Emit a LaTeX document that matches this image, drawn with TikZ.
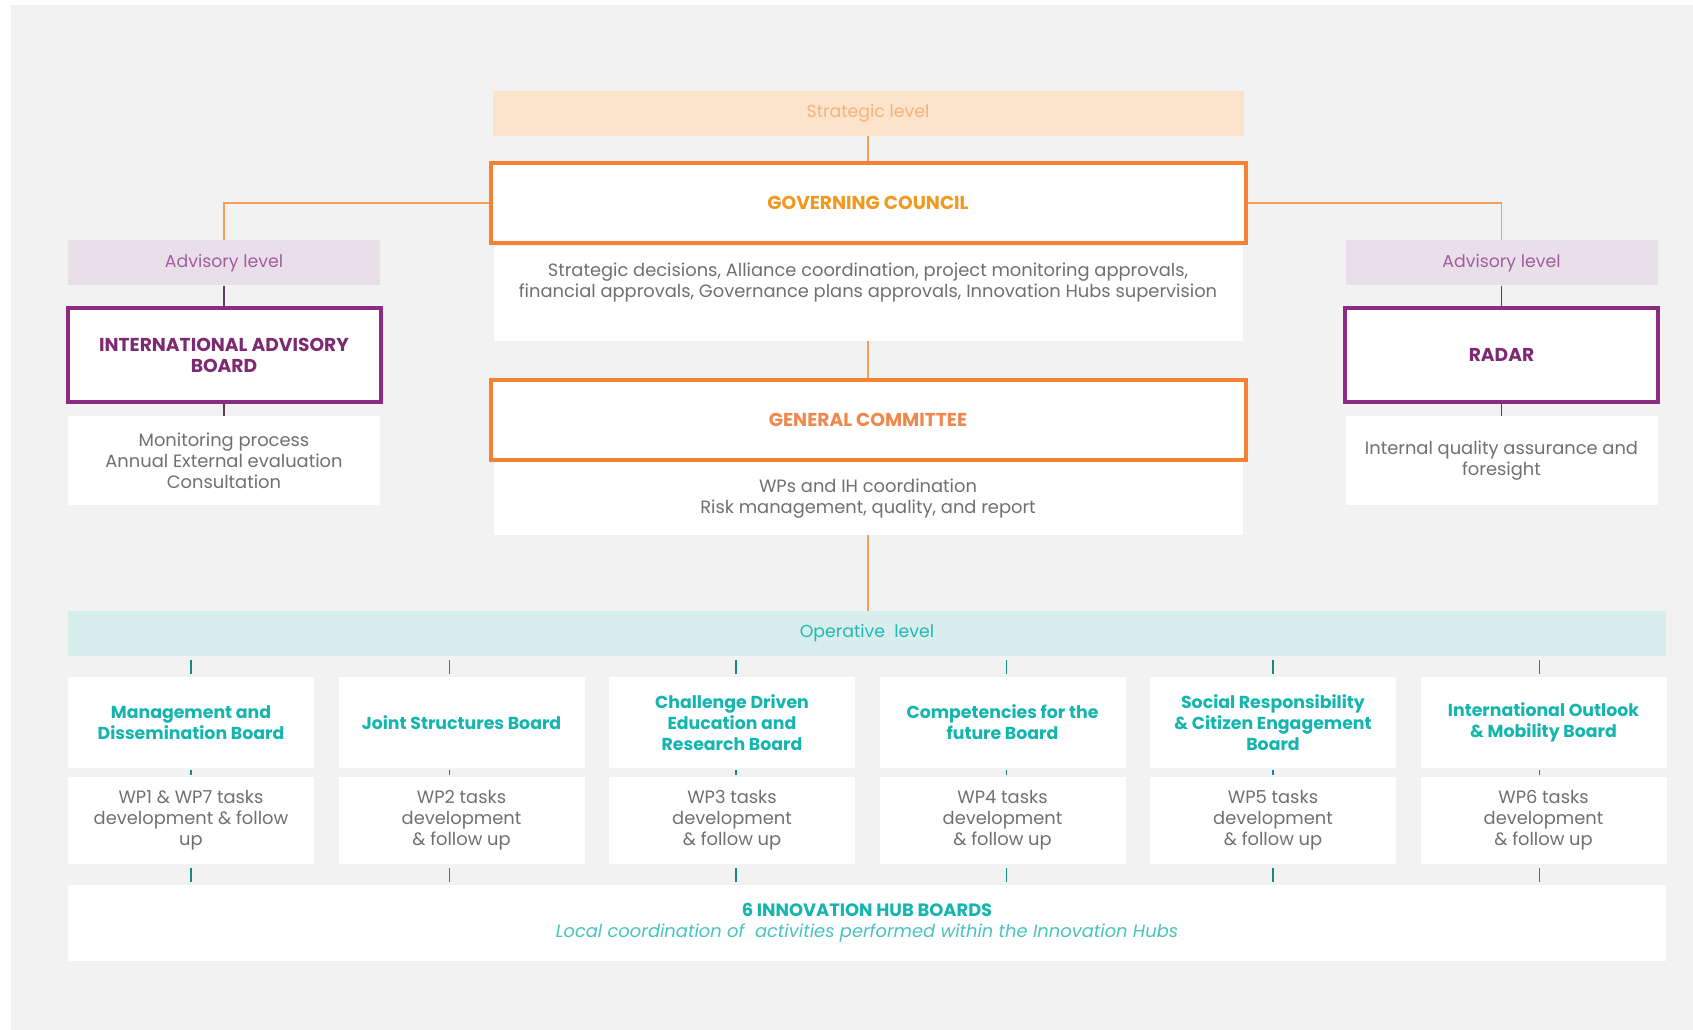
\documentclass[tikz,border=0pt]{standalone}
\usepackage{fontspec}
\setmainfont{Poppins}
\definecolor{bggray}{RGB}{242,242,242}
\definecolor{stratfill}{RGB}{252,227,204}
\definecolor{strattext}{RGB}{246,178,120}
\definecolor{boxorange}{RGB}{245,130,50}
\definecolor{gctext}{RGB}{243,152,30}
\definecolor{gcomtext}{RGB}{240,135,75}
\definecolor{lineorange}{RGB}{245,160,90}
\definecolor{advfill}{RGB}{233,223,233}
\definecolor{advtext}{RGB}{163,92,160}
\definecolor{boxpurple}{RGB}{139,43,130}
\definecolor{purpletext}{RGB}{126,42,114}
\definecolor{linepurple}{RGB}{95,60,92}
\definecolor{opfill}{RGB}{215,238,236}
\definecolor{optext}{RGB}{34,184,179}
\definecolor{boardtext}{RGB}{19,181,174}
\definecolor{lineteal}{RGB}{19,138,138}
\definecolor{desctxt}{RGB}{112,112,112}
\definecolor{hubitalic}{RGB}{70,196,190}
\begin{document}
\begin{tikzpicture}[x=0.75pt,y=0.75pt,yscale=-1,xscale=1,
	band/.style={inner sep=0pt, minimum height=33.75pt, font=\fontsize{13}{15}\selectfont},
	govbox/.style={draw=boxorange, line width=3pt, fill=white, inner sep=0pt, minimum width=566.25pt, minimum height=60pt, font=\fontsize{14}{16}\selectfont\bfseries},
	advbox/.style={draw=boxpurple, line width=3pt, fill=white, inner sep=0pt, minimum width=234.75pt, minimum height=70.5pt, align=center, text=purpletext, font=\fontsize{14}{15.75}\selectfont\bfseries},
	descbox/.style={fill=white, inner sep=0pt, align=center, text=desctxt, font=\fontsize{13.4}{15.75}\selectfont},
	boardbox/.style={fill=white, inner sep=0pt, minimum width=184.5pt, minimum height=68.25pt, align=center, text=boardtext, font=\fontsize{13}{15.75}\selectfont\bfseries},
	taskbox/.style={descbox, minimum width=184.5pt, minimum height=65.25pt},
	orangeline/.style={draw=lineorange, line width=1.2pt},
	purpleline/.style={draw=linepurple, line width=1pt},
	tealline/.style={draw=lineteal, line width=1pt, shorten >=2pt, shorten <=3pt}]
	%uncomment if require: \path (0,1030); %set diagram left start at 0, and has height of 1030
	\useasboundingbox (0,0) rectangle (1693,1030);
	\fill[bggray] (11,5) rectangle (1693,1030);
	
	%Shape: Rectangle [strategic level]
	\node[band, fill=stratfill, text=strattext, minimum width=563.25pt] (strat) at (868,113.5) {Strategic level};
	%Shape: Rectangle [governing council]
	\node[govbox, text=gctext] (gc) at (868,203) {GOVERNING COUNCIL};
	%Shape: Rectangle
	\node[descbox, minimum width=561.75pt, minimum height=71.25pt] (gcdesc) at (868,293.5) {};
	% Text Node
	\node[descbox, fill=none] (gcdesctxt) at (868,283) {Strategic decisions, Alliance coordination, project monitoring approvals,\\financial approvals, Governance plans approvals, Innovation Hubs supervision};
	%Shape: Rectangle [general committee]
	\node[govbox, text=gcomtext] (gcom) at (868,420) {GENERAL COMMITTEE};
	%Shape: Rectangle
	\node[descbox, minimum width=561.75pt, minimum height=54.75pt] (gcomdesc) at (868,498.5) {WPs and IH coordination\\Risk management, quality, and report};
	
	%Shape: Rectangle [advisory level, left]
	\node[band, fill=advfill, text=advtext, minimum width=234pt] (advl) at (224,263) {Advisory level};
	\node[advbox] (iab) at (224,355) {INTERNATIONAL ADVISORY\\BOARD};
	\node[descbox, minimum width=234pt, minimum height=66.75pt] (iabdesc) at (224,460.5) {Monitoring process\\Annual External evaluation\\Consultation};
	%Shape: Rectangle [advisory level, right]
	\node[band, fill=advfill, text=advtext, minimum width=234pt] (advr) at (1501.5,263) {Advisory level};
	\node[advbox] (radar) at (1501.5,355) {RADAR};
	\node[descbox, minimum width=234pt, minimum height=66.75pt] (radardesc) at (1501.5,460.5) {Internal quality assurance and\\foresight};
	
	%Shape: Rectangle [operative level]
	\node[band, fill=opfill, text=optext, minimum width=1198.5pt] (op) at (867,633.5) {Operative~ level};
	
	%Shape: Rectangle [boards]
	\node[boardbox] (b1) at (191,722.5) {Management and\\Dissemination Board};
	\node[boardbox] (b2) at (461.5,722.5) {Joint Structures Board};
	\node[boardbox] (b3) at (732,722.5) {Challenge Driven\\Education and\\Research Board};
	\node[boardbox] (b4) at (1002.5,722.5) {Competencies for the\\future Board};
	\node[boardbox] (b5) at (1273,722.5) {Social Responsibility\\\& Citizen Engagement\\Board};
	\node[boardbox] (b6) at (1543.5,722.5) {International Outlook\\\& Mobility Board};
	%Shape: Rectangle [tasks]
	\node[taskbox] (t1) at (191,820.5) {WP1 \& WP7 tasks\\development \& follow\\up};
	\node[taskbox] (t2) at (461.5,820.5) {WP2 tasks\\development\\\& follow up};
	\node[taskbox] (t3) at (732,820.5) {WP3 tasks\\development\\\& follow up};
	\node[taskbox] (t4) at (1002.5,820.5) {WP4 tasks\\development\\\& follow up};
	\node[taskbox] (t5) at (1273,820.5) {WP5 tasks\\development\\\& follow up};
	\node[taskbox] (t6) at (1543.5,820.5) {WP6 tasks\\development\\\& follow up};
	
	%Shape: Rectangle [innovation hubs]
	\node[descbox, minimum width=1198.5pt, minimum height=57pt, text=boardtext] (hub) at (867,923) {{\bfseries 6 INNOVATION HUB BOARDS}\\{\color{hubitalic}\itshape Local coordination of~ activities performed within the Innovation Hubs}};
	
	%Straight Lines
	\draw[orangeline] (strat) -- (gc);
	\draw[orangeline] (gc.west) -| (advl.north);
	\draw[orangeline] (gc.east) -| (advr.north);
	\draw[orangeline] (gcdesc) -- (gcom);
	\draw[orangeline] (gcomdesc.south) -- (gcomdesc.south |- op.north);
	\draw[purpleline] (advl) -- (iab);
	\draw[purpleline] (iab) -- (iabdesc);
	\draw[purpleline] (advr) -- (radar);
	\draw[purpleline] (radar) -- (radardesc);
	\draw[tealline] (op.south -| b1.north) -- (b1);
	\draw[tealline] ([xshift=-9pt]op.south -| b2.north) -- ([xshift=-9pt]b2.north);
	\draw[tealline] ([xshift=3pt]op.south -| b3.north) -- ([xshift=3pt]b3.north);
	\draw[tealline] ([xshift=3pt]op.south -| b4.north) -- ([xshift=3pt]b4.north);
	\draw[tealline] (op.south -| b5.north) -- (b5);
	\draw[tealline] ([xshift=-3pt]op.south -| b6.north) -- ([xshift=-3pt]b6.north);
	\draw[tealline, shorten <=1pt, shorten >=1pt] (b1) -- (t1);
	\draw[tealline, shorten <=1pt, shorten >=1pt] ([xshift=-9pt]b2.south) -- ([xshift=-9pt]t2.north);
	\draw[tealline, shorten <=1pt, shorten >=1pt] ([xshift=3pt]b3.south) -- ([xshift=3pt]t3.north);
	\draw[tealline, shorten <=1pt, shorten >=1pt] ([xshift=3pt]b4.south) -- ([xshift=3pt]t4.north);
	\draw[tealline, shorten <=1pt, shorten >=1pt] (b5) -- (t5);
	\draw[tealline, shorten <=1pt, shorten >=1pt] ([xshift=-3pt]b6.south) -- ([xshift=-3pt]t6.north);
	\draw[tealline] (t1) -- (t1.south |- hub.north);
	\draw[tealline] ([xshift=-9pt]t2.south) -- ([xshift=-9pt]t2.south |- hub.north);
	\draw[tealline] ([xshift=3pt]t3.south) -- ([xshift=3pt]t3.south |- hub.north);
	\draw[tealline] ([xshift=3pt]t4.south) -- ([xshift=3pt]t4.south |- hub.north);
	\draw[tealline] (t5) -- (t5.south |- hub.north);
	\draw[tealline] ([xshift=-3pt]t6.south) -- ([xshift=-3pt]t6.south |- hub.north);
	
\end{tikzpicture}
\end{document}
